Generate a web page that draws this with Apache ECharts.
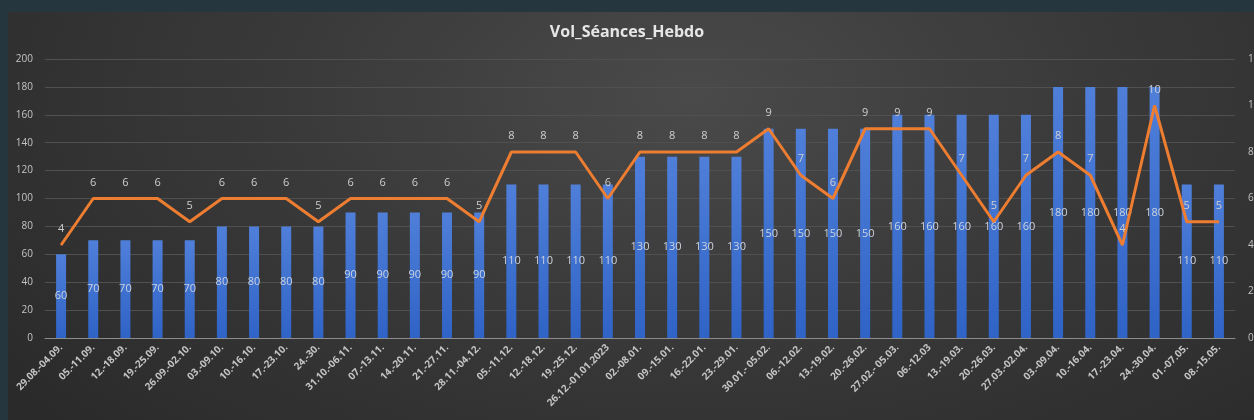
<!DOCTYPE html>
<html>
<head>
<meta charset="utf-8">
<script src="https://cdn.jsdelivr.net/npm/echarts@6/dist/echarts.min.js"></script>
<style>
html,body{margin:0;padding:0;width:1254px;height:420px;background:#26363f;overflow:hidden;}
#wrap{position:absolute;left:8px;top:12px;width:1246px;height:408px;
background:radial-gradient(ellipse 70% 120% at 55% 20%, #4a4a4a 0%, #3a3a3a 45%, #2a2a2a 100%);}
#chart{position:absolute;left:0;top:0;width:1254px;height:420px;}
</style>
</head>
<body>
<div id="wrap"></div>
<div id="chart"></div>
<script>
const categories = ["29.08.-04.09.","05.-11.09.","12.-18.09.","19.-25.09.","26.09.-02.10.","03.-09.10.","10.-16.10.","17.-23.10.","24.-30.","31.10.-06.11.","07.-13.11.","14.-20.11.","21.-27.11.","28.11.-04.12.","05.-11.12.","12.-18.12.","19.-25.12.","26.12.-01.01.2023","02.-08.01.","09.-15.01.","16.-22.01.","23.-29.01.","30.01.- 05.02.","06.-12.02.","13.-19.02.","20.-26.02.","27.02.- 05.03.","06.-12.03","13.-19.03.","20.-26.03.","27.03.-02.04.","03.-09.04.","10.-16.04.","17.-23.04.","24.-30.04.","01.-07.05.","08.-15.05."];
const volume = [60,70,70,70,70,80,80,80,80,90,90,90,90,90,110,110,110,110,130,130,130,130,150,150,150,150,160,160,160,160,160,180,180,180,180,110,110];
const seances = [4,6,6,6,5,6,6,6,5,6,6,6,6,5,8,8,8,6,8,8,8,8,9,7,6,9,9,9,7,5,7,8,7,4,10,5,5];
const leftTicks = [0,200,20];
const rightTicks = [0,12,2];

const chart = echarts.init(document.getElementById('chart'), null, {renderer:'canvas'});
chart.setOption({
  backgroundColor:'transparent',
  animation:false,
  title:{text:'Vol_Séances_Hebdo', left:'center', top:19,
    textStyle:{color:'#e6e6e6', fontSize:16, fontWeight:'bold', fontFamily:'Open Sans'}},
  grid:{left:45, right:19, top:59, bottom:82, containLabel:false, outerBoundsMode:'none'},
  xAxis:{type:'category', data:categories,
    axisLine:{lineStyle:{color:'#8c8c8c', width:1}},
    axisTick:{show:false},
    axisLabel:{rotate:45, color:'#c4c4c4', fontSize:10, fontWeight:'bold', interval:0, margin:8, fontFamily:'Open Sans'}},
  yAxis:[
    {type:'value', min:leftTicks[0], max:leftTicks[1], interval:leftTicks[2],
     axisLine:{show:false}, axisTick:{show:false},
     axisLabel:{color:'#c4c4c4', fontSize:10, margin:12, fontFamily:'Open Sans'},
     splitLine:{lineStyle:{color:'#505050', width:1}}},
    {type:'value', min:rightTicks[0], max:rightTicks[1], interval:rightTicks[2],
     axisLine:{show:false}, axisTick:{show:false},
     axisLabel:{color:'#c4c4c4', fontSize:10, margin:13, fontFamily:'Open Sans'},
     splitLine:{show:false}}
  ],
  series:[
    {type:'bar', data:volume, barWidth:10, yAxisIndex:0,
     itemStyle:{color:new echarts.graphic.LinearGradient(0,0,0,1,[{offset:0,color:'#4f7fd9'},{offset:1,color:'#2f63c6'}])},
     label:{show:true, position:'inside', color:'#cdd3de', fontSize:11, fontFamily:'Open Sans'}},
    {type:'line', data:seances, yAxisIndex:1, symbol:'circle', symbolSize:1, showSymbol:true,
     itemStyle:{color:'#ed7d31'},
     lineStyle:{color:'#ed7d31', width:3},
     labelLayout:{hideOverlap:false},
     label:{show:true, position:'top', distance:10, color:'#cfcfcf', fontSize:11, fontFamily:'Open Sans'}}
  ]
});
</script>
</body>
</html>
